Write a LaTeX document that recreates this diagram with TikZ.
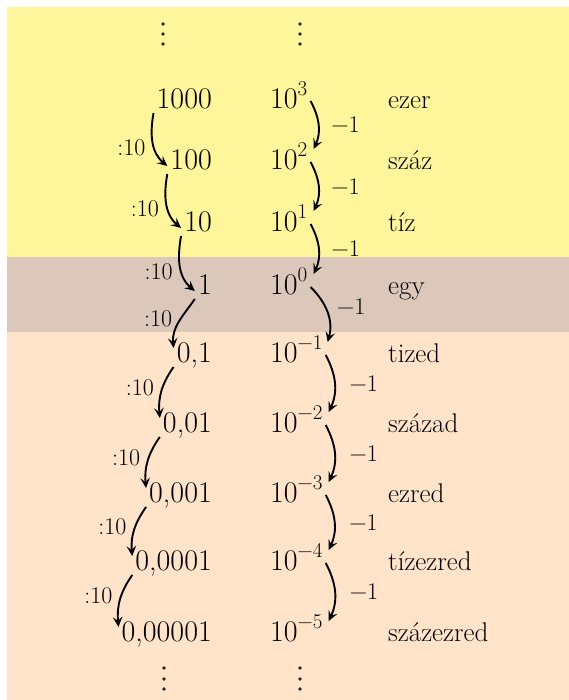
\documentclass[tikz,border=0pt]{standalone}
\usetikzlibrary{arrows.meta,calc}
\definecolor{bandyellow}{HTML}{FFF59B}
\definecolor{bandbrown}{HTML}{DCC8BB}
\definecolor{bandpeach}{HTML}{FFE4CA}
\newcommand\tenpow[1]{10\raisebox{0.45em}{\fontsize{21}{24}\selectfont #1}}
\begin{document}
\begin{tikzpicture}[x=1pt,y=1pt,
  num/.style={inner sep=0pt, font=\fontsize{30}{36}\selectfont},
  word/.style={inner sep=0pt, anchor=base west, font=\fontsize{27}{32}\selectfont},
  steplabel/.style={inner sep=0pt, font=\fontsize{24}{28}\selectfont},
  dotmark/.style={fill=black!85, circle, inner sep=0pt, minimum size=3.8pt},
  arr/.style={line width=1.9pt, -{Stealth[length=10pt,width=9.5pt,inset=4pt]}},
]
\useasboundingbox (0,0) rectangle (569,700);
% background bands
\fill[bandyellow] (7,443) rectangle (569,693);
\fill[bandbrown]  (7,368) rectangle (569,443);
\fill[bandpeach]  (7,0)   rectangle (569,368);

% continuation dots
\foreach \x/\c in {163/tl,300/tr}{
  \foreach \y [count=\k] in {676,666,656}{
    \node[dotmark] (\c\k) at (\x,\y) {};
  }
}
\foreach \x/\c in {164/bl,300/br}{
  \foreach \y [count=\k] in {32,21,11}{
    \node[dotmark] (\c\k) at (\x,\y) {};
  }
}

% decimal column
\node[num, anchor=base east] (a0) at (212,591) {1000};
\node[num, anchor=base east] (a1) at (212,530) {100};
\node[num, anchor=base east] (a2) at (212,468) {10};
\node[num, anchor=base east] (a3) at (212,405) {1};
\node[num, anchor=base east] (a4) at (212,337) {0,1};
\node[num, anchor=base east] (a5) at (212,267) {0,01};
\node[num, anchor=base east] (a6) at (212,197) {0,001};
\node[num, anchor=base east] (a7) at (212,129) {0,0001};
\node[num, anchor=base east] (a8) at (212,58)  {0,00001};

% power column
\node[num, anchor=base west] (b0) at (270,591) {\tenpow{3}};
\node[num, anchor=base west] (b1) at (270,530) {\tenpow{2}};
\node[num, anchor=base west] (b2) at (270,468) {\tenpow{1}};
\node[num, anchor=base west] (b3) at (270,405) {\tenpow{0}};
\node[num, anchor=base west] (b4) at (270,337) {\tenpow{−1}};
\node[num, anchor=base west] (b5) at (270,267) {\tenpow{−2}};
\node[num, anchor=base west] (b6) at (270,197) {\tenpow{−3}};
\node[num, anchor=base west] (b7) at (270,129) {\tenpow{−4}};
\node[num, anchor=base west] (b8) at (270,58)  {\tenpow{−5}};

% names
\node[word] (w0) at (388,591) {ezer};
\node[word] (w1) at (388,530) {száz};
\node[word] (w2) at (388,468) {tíz};
\node[word] (w3) at (388,405) {egy};
\node[word] (w4) at (388,337) {tized};
\node[word] (w5) at (388,267) {század};
\node[word] (w6) at (388,197) {ezred};
\node[word] (w7) at (388,129) {tízezred};
\node[word] (w8) at (388,58)  {százezred};

% division steps
\foreach \i/\j in {0/1,1/2,2/3}{
  \draw[arr] ($(a\i.base west)+(-3,-4)$) to[out=-100,in=140]
    node[steplabel, anchor=east, pos=0.6, xshift=-8pt] {:10}
    ($(a\j.base west)+(-3,4)$);
}
\foreach \i/\j in {3/4,4/5,5/6,6/7,7/8}{
  \draw[arr] ($(a\i.base west)+(-3,-4)$) to[out=-125,in=95]
    node[steplabel, anchor=east, pos=0.42, xshift=-8pt] {:10}
    ($(a\j.base west)+(-3,15)$);
}

% exponent steps
\foreach \i/\j in {0/1,1/2,2/3}{
  \draw[arr] ($(b\i.base east)+(3,8)$) to[out=-62,in=65]
    node[steplabel, anchor=west, xshift=12pt] {−1}
    ($(b\j.base east)+(6,21)$);
}
\draw[arr] ($(b3.base east)+(3,8)$) to[out=-45,in=75]
  node[steplabel, anchor=west, pos=0.4, xshift=11pt] {−1}
  ($(b4.base east)+(5,21)$);
\foreach \i/\j in {4/5,5/6,6/7,7/8}{
  \draw[arr] ($(b\i.base east)+(3,8)$) to[out=-62,in=65]
    node[steplabel, anchor=west, xshift=14pt] {−1}
    ($(b\j.base east)+(6,21)$);
}
\end{tikzpicture}
\end{document}
